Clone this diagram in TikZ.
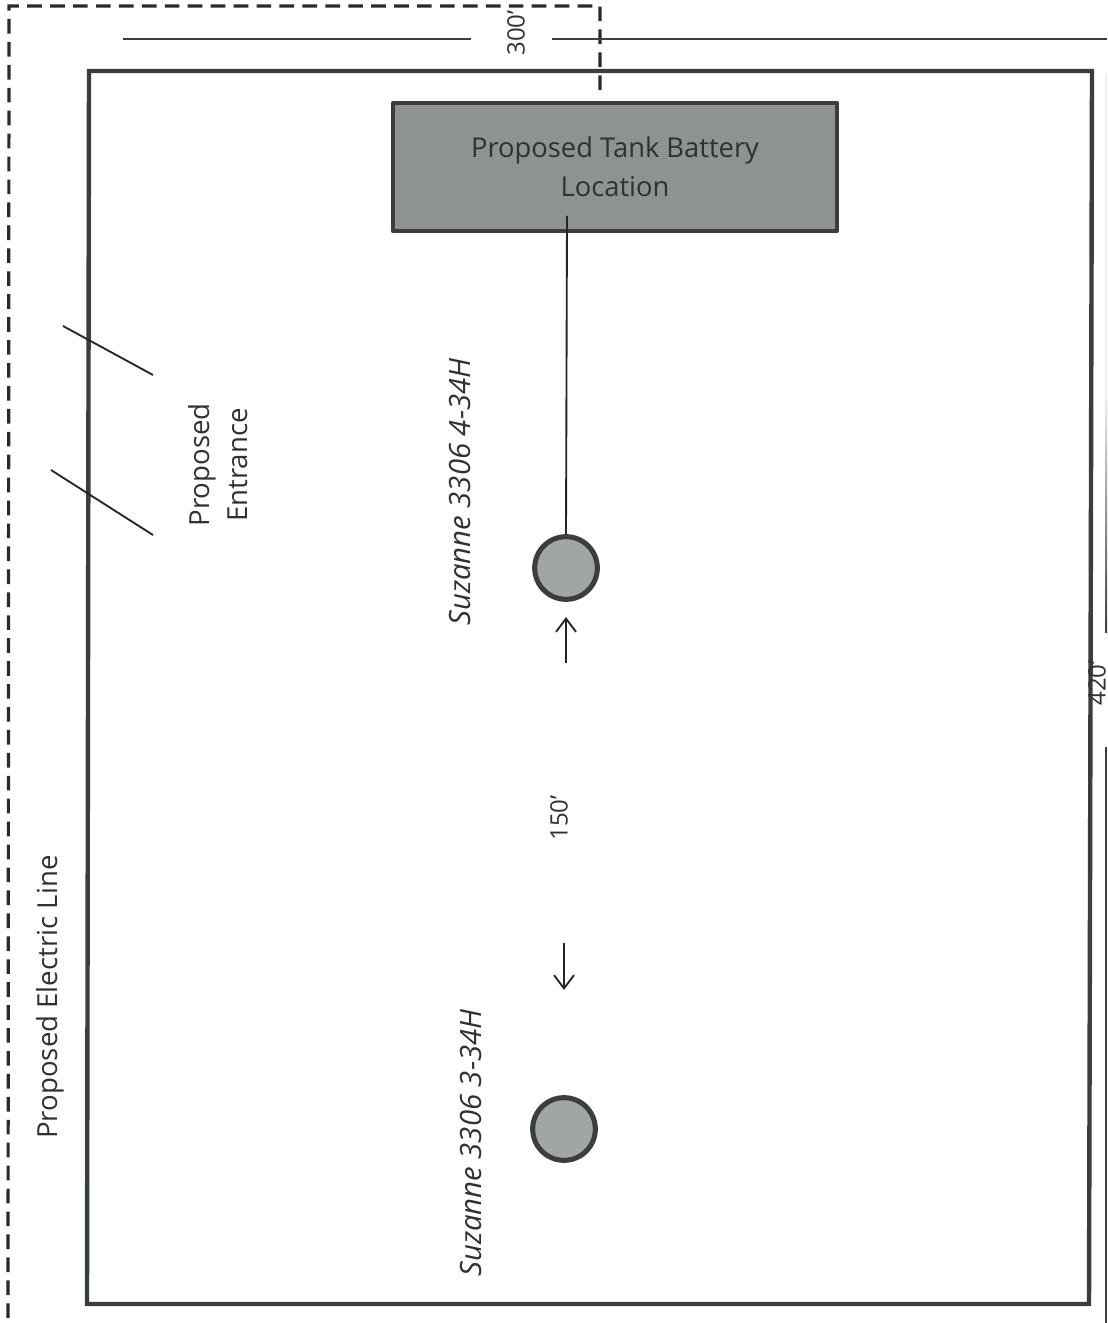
\documentclass[tikz,border=0pt]{standalone}
\usepackage{fontspec}
\setmainfont{Open Sans}
\usetikzlibrary{arrows.meta}
\definecolor{ink}{HTML}{3A3E3E}
\definecolor{txt}{HTML}{2E3232}
\definecolor{tankfill}{HTML}{8E9292}
\definecolor{wellfill}{HTML}{A2A5A5}
\tikzset{
  x=0.75pt,y=-0.75pt,
  boundary/.style={draw=ink,line width=3.3pt,line join=miter},
  elec/.style={draw=ink!70!black,line width=2.4pt,dash pattern=on 11pt off 6.2pt},
  dim/.style={draw=ink,line width=1.9pt},
  thin line/.style={draw=black!85,line width=1.4pt},
  tank/.style={draw=ink,line width=3.6pt,line join=round,fill=tankfill,minimum width=333pt,minimum height=96pt,inner sep=0pt,align=center,font=\fontsize{20.5}{29}\selectfont,text=txt},
  well/.style={circle,draw=ink,line width=3.8pt,fill=wellfill,minimum size=47pt,inner sep=0pt},
  label/.style={rotate=90,text=txt,font=\fontsize{20.7}{29}\selectfont,align=center,inner sep=0pt},
  wlabel/.style={label,font=\fontsize{22}{26}\selectfont\itshape},
  dimlabel/.style={rotate=90,text=txt,font=\fontsize{18}{22}\selectfont,inner sep=0pt},
  dimarrow/.style={draw=black!85,line width=1.4pt,-{Straight Barb[length=10pt,width=15pt,line width=1.4pt]}}
}
\begin{document}
\begin{tikzpicture}
\useasboundingbox (0,0) rectangle (1107,1323);
% property outline
\coordinate (bTL) at (89,71); \coordinate (bTR) at (1092,71);
\coordinate (bBR) at (1089,1304); \coordinate (bBL) at (87,1304);
\draw[boundary] (bTL) -- (bTR) -- (bBR) -- (bBL) -- cycle;
% electric line
\coordinate (eA) at (600,90); \coordinate (eB) at (600,6);
\coordinate (eC) at (9,6); \coordinate (eD) at (8,1323);
\draw[elec] (eA) -- (eB) -- (eC) -- (eD);
% top dimension
\node[dimlabel] (d300) at (516,33) {300’};
\coordinate (t1) at (123,39); \coordinate (t2) at (471,39);
\coordinate (t3) at (552,39); \coordinate (t4) at (1107,39);
\draw[dim] (t1) -- (t2); \draw[dim] (t3) -- (t4);
% right dimension (scan fades towards the top)
\node[dimlabel] (d420) at (1097,683) {420’};
\coordinate (r1) at (1106,75); \coordinate (r1b) at (1106,400); \coordinate (r2) at (1106,632);
\coordinate (r3) at (1106,747); \coordinate (r4) at (1106,1323);
\draw[dim,draw=black!7] (r1) -- (r1b);
\shade[top color=black!7,bottom color=ink] (1105,400) rectangle (1107,632);
\draw[dim] (r3) -- (r4);
% tank and wells
\node[tank] (tank) at (615,167) {Proposed Tank Battery\\Location};
\node[well] (w4) at (566,568) {};
\node[well] (w3) at (564,1129) {};
\coordinate (tl) at (567,216);
\draw[thin line] (tl) -- (w4.north);
% entrance
\coordinate (e1) at (63,326); \coordinate (e2) at (153,375);
\coordinate (e3) at (51,470); \coordinate (e4) at (153,535);
\draw[thin line] (e1) -- (e2); \draw[thin line] (e3) -- (e4);
% labels
\node[label] (ent) at (218,465) {Proposed\\Entrance};
\node[wlabel] (l4) at (460,492) {Suzanne 3306 4-34H};
\node[wlabel] (l3) at (471,1143) {Suzanne 3306 3-34H};
\node[label] (pel) at (50,997) {Proposed Electric Line};
\node[dimlabel] (d150) at (559,818) {150’};
% spacing arrows
\coordinate (a1) at (566,663); \coordinate (a2) at (566,617);
\coordinate (a3) at (564,943); \coordinate (a4) at (564,990);
\draw[dimarrow] (a1) -- (a2);
\draw[dimarrow] (a3) -- (a4);
\end{tikzpicture}
\end{document}
